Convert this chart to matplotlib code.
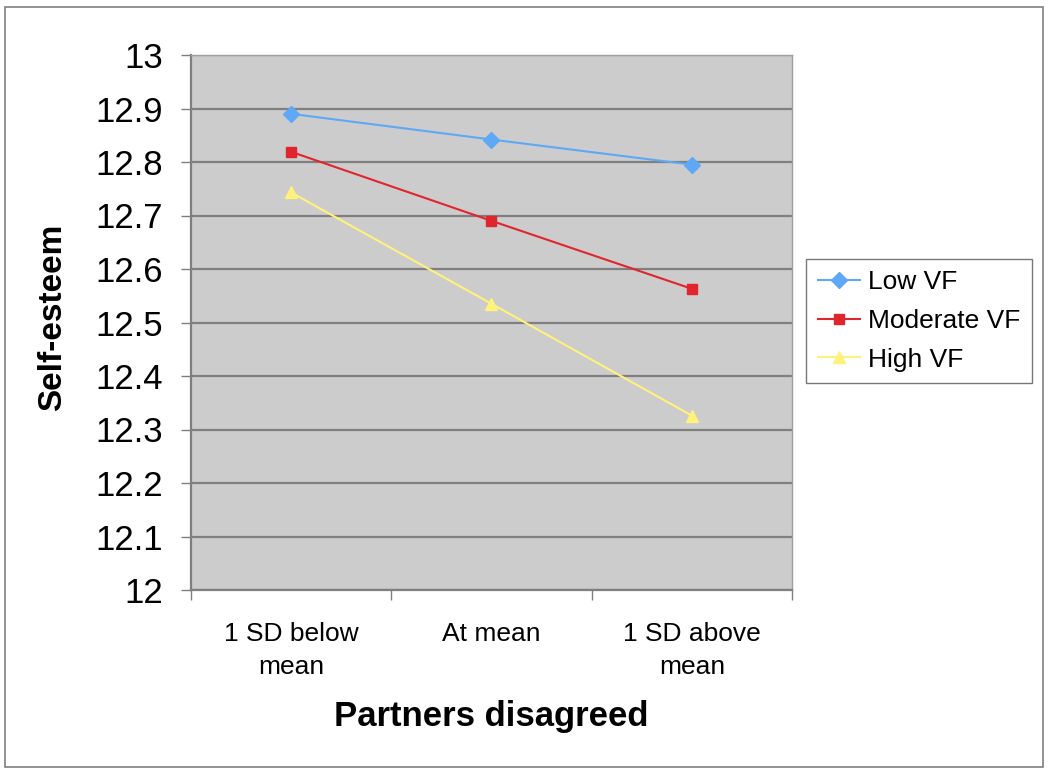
"""
Self-esteem by partner disagreement, split by VF level.
Writes: out.png
"""
import matplotlib
matplotlib.use("Agg")
import matplotlib.pyplot as plt
from matplotlib.patches import Rectangle

plt.rcParams["font.family"] = ["Liberation Sans", "DejaVu Sans"]

CATEGORIES = ["1 SD below\nmean", "At mean", "1 SD above\nmean"]
LOW_VF = [12.89, 12.842, 12.795]
MODERATE_VF = [12.819, 12.69, 12.563]
HIGH_VF = [12.743, 12.535, 12.326]
Y_TICKS = [12, 12.1, 12.2, 12.3, 12.4, 12.5, 12.6, 12.7, 12.8, 12.9, 13]
Y_TICK_LABELS = ["12", "12.1", "12.2", "12.3", "12.4", "12.5", "12.6", "12.7", "12.8", "12.9", "13"]

PLOT_BG = "#cccccc"
GRID = "#7f7f7f"
BLUE = "#5fa8f6"
RED = "#e0252d"
YELLOW = "#fff27c"

SERIES = [
    ("Low VF", LOW_VF, BLUE, "D", 8),
    ("Moderate VF", MODERATE_VF, RED, "s", 7.5),
    ("High VF", HIGH_VF, YELLOW, "^", 9),
]

fig = plt.figure(figsize=(10.5, 7.72), dpi=100)
ax = fig.add_axes([191 / 1050, 1 - 590 / 772, 601 / 1050, 535 / 772])
ax.set_facecolor(PLOT_BG)

x = range(len(CATEGORIES))
for name, vals, color, marker, ms in SERIES:
    ax.plot(x, vals, color=color, lw=1.5, marker=marker, markersize=ms,
            markeredgecolor=color, label=name, zorder=3)

ax.set_ylim(12, 13)
ax.set_yticks(Y_TICKS)
ax.set_yticklabels(Y_TICK_LABELS, fontsize=25)
ax.tick_params(axis="y", length=7, width=1, color=GRID, pad=13)
ax.yaxis.grid(True, color=GRID, lw=1.6)
ax.set_axisbelow(True)

ax.set_xlim(-0.5, 2.5)
ax.set_xticks(list(x))
ax.set_xticklabels(CATEGORIES, fontsize=19, linespacing=1.5)
ax.set_xticks([-0.5, 0.5, 1.5, 2.5], minor=True)
ax.tick_params(axis="x", which="major", length=0, pad=23)
ax.tick_params(axis="x", which="minor", length=7, width=1, color=GRID)

for side in ["left", "bottom"]:
    ax.spines[side].set_color(GRID)
    ax.spines[side].set_linewidth(1.6)
for side in ["top", "right"]:
    ax.spines[side].set_color("#a0a0a0")
    ax.spines[side].set_linewidth(1)

ax.set_xlabel("Partners disagreed", fontsize=25, fontweight="bold", va="center")
ax.xaxis.set_label_coords(0.5, -0.237)
ax.set_ylabel("Self-esteem", fontsize=24, fontweight="bold", va="center")
ax.yaxis.set_label_coords(-0.231, 0.51)

leg = fig.legend(loc="center left", bbox_to_anchor=(806 / 1050, 1 - 321 / 772),
                 fontsize=19, frameon=True, fancybox=False, handlelength=1.6,
                 handletextpad=0.3, borderpad=0.45, borderaxespad=0,
                 labelspacing=0.55)
leg.get_frame().set_edgecolor("#555555")
leg.get_frame().set_linewidth(1)

# outer chart border
fig.patches.append(Rectangle((5 / 1050, 1 - 767 / 772), 1038 / 1050, 760 / 772,
                             transform=fig.transFigure, fill=False,
                             edgecolor="#808080", lw=1.2))

fig.savefig("out.png", dpi=100)
